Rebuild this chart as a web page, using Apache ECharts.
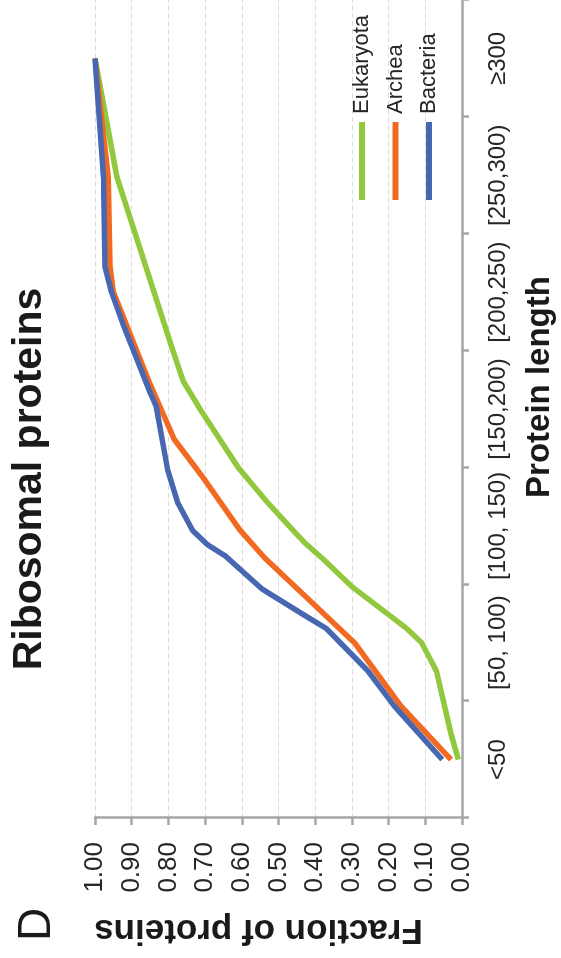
<!DOCTYPE html>
<html>
<head>
<meta charset="utf-8">
<script src="https://cdn.jsdelivr.net/npm/echarts/dist/echarts.min.js"></script>
<style>
  html, body { margin: 0; padding: 0; background: #fff; width: 561px; height: 958px; overflow: hidden; }
  /* the chart is laid out landscape and turned a quarter-turn counter-clockwise */
  #chart { position: absolute; left: 0; top: 0; width: 958px; height: 561px;
           transform-origin: 0 0; transform: translate(0, 958px) rotate(-90deg); }
</style>
</head>
<body>
<div id="chart"></div>
<script>
// protein length classes (each class spans 50 residues)
const categories = ['<50', '[50, 100)', '[100, 150)', '[150,200)', '[200,250)', '[250,300)', '≥300'];

// cumulative fraction of ribosomal proteins vs. protein length (residues)
const eukaryotaLength   = [25, 36, 63, 75, 81, 87, 99, 111, 118, 123, 135, 150, 174, 187, 201, 274, 325];
const eukaryotaFraction = [0.01, 0.03, 0.07, 0.11, 0.15, 0.20, 0.30, 0.38, 0.43, 0.46, 0.53, 0.61, 0.71, 0.76, 0.79, 0.94, 1.00];

const archeaLength   = [25, 48, 75, 91, 111, 123, 146, 162, 186, 225, 236, 274, 325];
const archeaFraction = [0.03, 0.167, 0.293, 0.401, 0.536, 0.604, 0.707, 0.784, 0.851, 0.950, 0.959, 0.964, 1.00];

const bacteriaLength   = [25, 48, 63, 81, 87, 98, 112, 117, 123, 135, 149, 176, 181, 211, 225, 236, 274, 325];
const bacteriaFraction = [0.054, 0.185, 0.257, 0.369, 0.432, 0.545, 0.644, 0.694, 0.734, 0.775, 0.802, 0.833, 0.847, 0.923, 0.955, 0.973, 0.977, 1.00];

const colors = { Eukaryota: '#92C83E', Archea: '#F26A21', Bacteria: '#4767B1' };
const font = "'Liberation Sans', Arial, Helvetica, sans-serif";
const axisGrey = '#a6a6a6';
const textDark = '#262626';

function pairs(xs, ys) { return xs.map((x, i) => [x, ys[i]]); }

function lineSeries(name, xs, ys) {
  return {
    name: name,
    type: 'line',
    xAxisIndex: 1,
    yAxisIndex: 0,
    data: pairs(xs, ys),
    symbol: 'none',
    lineStyle: { width: 5.5, color: colors[name], join: 'round' },
    itemStyle: { color: colors[name] }
  };
}

const chart = echarts.init(document.getElementById('chart'), null, { renderer: 'canvas' });
chart.setOption({
  animation: false,
  backgroundColor: '#ffffff',
  textStyle: { fontFamily: font },
  title: [
    { text: 'Ribosomal proteins', left: 'center', top: 9, padding: 0,
      textStyle: { fontSize: 41, fontWeight: 'bold', color: '#1a1a1a', fontFamily: font } },
    { text: 'D', left: 17, top: 14, padding: 0,
      textStyle: { fontSize: 46, fontWeight: 'normal', color: '#1a1a1a', fontFamily: font } }
  ],
  legend: {
    orient: 'vertical', left: 758, top: 351, padding: 0,
    itemGap: 11.5, itemWidth: 78, itemHeight: 6, icon: 'rect',
    textStyle: { fontSize: 22, color: textDark, fontFamily: font, padding: [0, 0, 0, 3] },
    data: ['Eukaryota', 'Archea', 'Bacteria']
  },
  grid: { left: 140, right: -9, top: 95, bottom: 96, containLabel: false },
  xAxis: [
    {
      type: 'category', data: categories, boundaryGap: true, position: 'bottom',
      axisLine: { lineStyle: { color: axisGrey, width: 2.5 } },
      axisTick: { show: true, length: 7, lineStyle: { color: axisGrey, width: 2.5 } },
      axisLabel: { interval: 0, fontSize: 24, color: textDark, margin: 24, fontFamily: font },
      splitLine: { show: false },
      name: 'Protein length', nameLocation: 'middle', nameGap: 61,
      nameTextStyle: { fontSize: 33, fontWeight: 'bold', color: '#1a1a1a', fontFamily: font, padding: [0, 0, 0, 44] }
    },
    { type: 'value', min: 0, max: 350, show: false }
  ],
  yAxis: {
    type: 'value', min: 0, max: 1, interval: 0.1,
    axisLine: { show: true, lineStyle: { color: axisGrey, width: 2.5 } },
    axisTick: { show: true, length: 7, lineStyle: { color: axisGrey, width: 2.5 } },
    axisLabel: { formatter: v => v.toFixed(2), fontSize: 26, color: textDark, margin: 24, fontFamily: font },
    splitLine: { show: true, lineStyle: { color: '#dcdcdc', width: 1, type: [5, 3] } },
    name: 'Fraction of proteins', nameLocation: 'middle', nameGap: 94,
    nameTextStyle: { fontSize: 35, fontWeight: 'bold', color: '#1a1a1a', fontFamily: font, padding: [0, 0, 0, 40] }
  },
  series: [
    lineSeries('Eukaryota', eukaryotaLength, eukaryotaFraction),
    lineSeries('Archea', archeaLength, archeaFraction),
    lineSeries('Bacteria', bacteriaLength, bacteriaFraction)
  ]
});
</script>
</body>
</html>
